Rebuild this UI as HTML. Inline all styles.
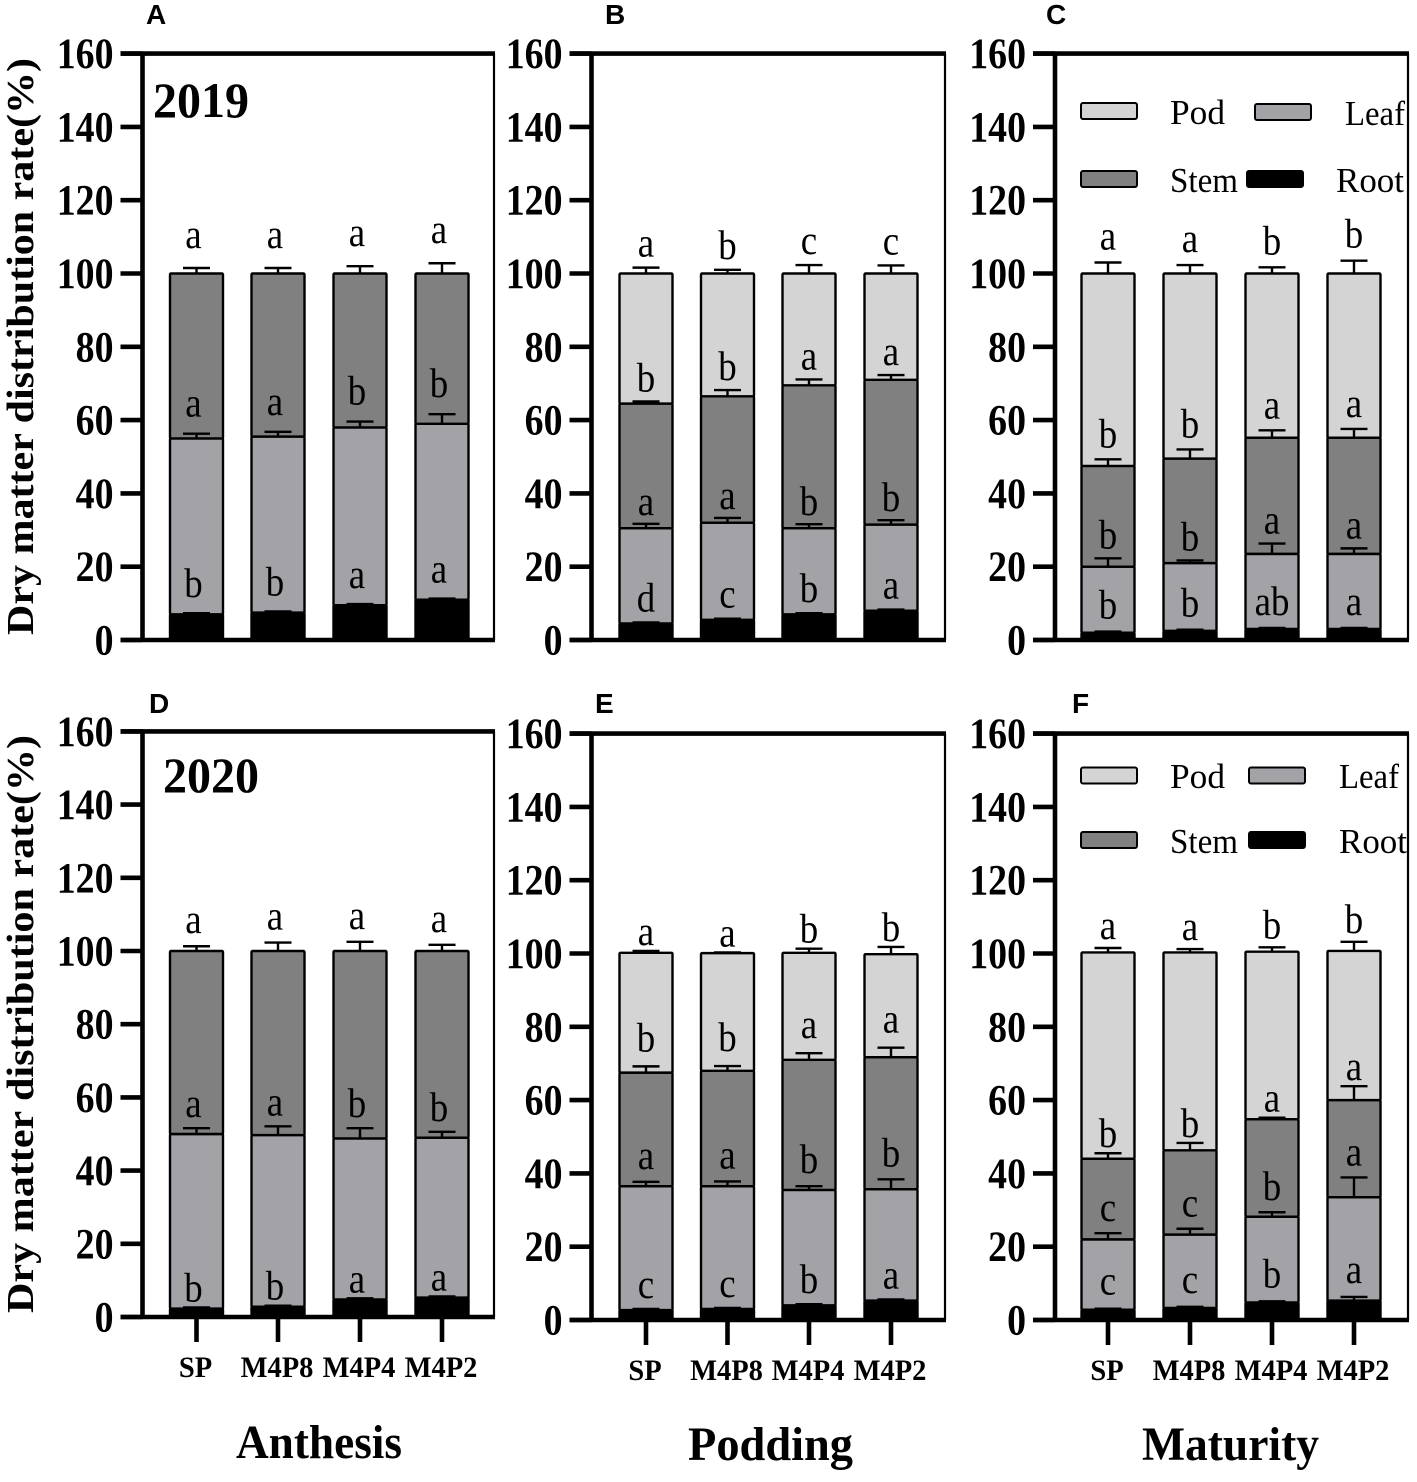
<!DOCTYPE html>
<html lang="en">
<head>
<meta charset="utf-8">
<title>Dry matter distribution rate</title>
<style>
html,body{margin:0;padding:0;background:#fff;}
svg{display:block;}
text{font-family:"Liberation Serif",serif;fill:#000;}
.sans{font-family:"Liberation Sans",sans-serif;}
</style>
</head>
<body>
<svg id="figure" xmlns="http://www.w3.org/2000/svg" width="1417" height="1482" viewBox="0 0 1417 1482"></svg>
<script>
const categories = ["SP", "M4P8", "M4P4", "M4P2"];
const tickLabels = [0, 20, 40, 60, 80, 100, 120, 140, 160];
const seriesNames = ["root", "leaf", "stem", "pod"];

const rootA = [7, 7.5, 9.5, 11];
const leafA = [48, 48, 48.5, 48];
const stemA = [45, 44.5, 42, 41];
const podA = [0, 0, 0, 0];
const rootErrA = [0.3, 0.3, 0.3, 0.3];
const leafErrA = [1.3, 1.3, 1.6, 2.6];
const stemErrA = [1.5, 1.5, 2, 2.8];
const podErrA = [0, 0, 0, 0];
const lettersA = [["b","b","a","a"], ["a","a","b","b"], ["a","a","a","a"], []];

const rootB = [4.5, 5.5, 7, 8];
const leafB = [26, 26.5, 23.5, 23.5];
const stemB = [34, 34.5, 39, 39.5];
const podB = [35.5, 33.5, 30.5, 29];
const rootErrB = [0.3, 0.3, 0.3, 0.3];
const leafErrB = [1.2, 1.3, 1.1, 1.2];
const stemErrB = [0.6, 1.7, 1.6, 1.3];
const podErrB = [1.6, 1, 2.3, 2.2];
const lettersB = [["d","c","b","a"], ["a","a","b","b"], ["b","b","a","a"], ["a","b","c","c"]];

const rootC = [2, 2.5, 3, 3];
const leafC = [18, 18.5, 20.5, 20.5];
const stemC = [27.5, 28.5, 31.7, 31.7];
const podC = [52.5, 50.5, 44.8, 44.8];
const rootErrC = [0.3, 0.3, 0.3, 0.3];
const leafErrC = [2.3, 0.7, 2.8, 1.5];
const stemErrC = [1.8, 2.5, 2, 2.4];
const podErrC = [3, 2.3, 1.7, 3.5];
const lettersC = [["b","b","ab","a"], ["b","b","a","a"], ["b","b","a","a"], ["a","a","b","b"]];

const rootD = [2.3, 2.8, 4.8, 5.3];
const leafD = [47.7, 46.9, 44, 43.7];
const stemD = [50, 50.3, 51.2, 51];
const podD = [0, 0, 0, 0];
const rootErrD = [0.3, 0.3, 0.3, 0.3];
const leafErrD = [1.6, 2.4, 2.8, 1.6];
const stemErrD = [1.3, 2.3, 2.5, 1.7];
const podErrD = [0, 0, 0, 0];
const lettersD = [["b","b","a","a"], ["a","a","b","b"], ["a","a","a","a"], []];

const rootE = [2.7, 3, 4, 5.3];
const leafE = [33.8, 33.5, 31.5, 30.4];
const stemE = [31, 31.5, 35.5, 36];
const podE = [32.7, 32.1, 29.2, 28.1];
const rootErrE = [0.3, 0.3, 0.3, 0.3];
const leafErrE = [1.2, 1.3, 1, 2.7];
const stemErrE = [1.7, 1.3, 1.8, 2.6];
const podErrE = [0.5, 0.2, 1.1, 2];
const lettersE = [["c","c","b","a"], ["a","a","b","b"], ["b","b","a","a"], ["a","a","b","b"]];

const rootF = [2.8, 3.3, 4.8, 5.3];
const leafF = [19.2, 20, 23.4, 28.2];
const stemF = [22, 23, 26.6, 26.5];
const podF = [56.3, 54, 45.7, 40.7];
const rootErrF = [0.3, 0.3, 0.3, 1];
const leafErrF = [1.7, 1.6, 1.2, 5.4];
const stemErrF = [1.5, 2, 0.4, 3.8];
const podErrF = [1.2, 0.9, 1.2, 2.5];
const lettersF = [["c","c","b","a"], ["c","c","b","a"], ["b","b","a","a"], ["a","a","b","b"]];

const fills = {root:"#000000", leaf:"#a3a2a6", stem:"#808080", pod:"#d4d4d4"};
const NS = "http://www.w3.org/2000/svg";
const svg = document.getElementById("figure");

function make(parent, tag, props) {
  const node = document.createElementNS(NS, tag);
  for (const key in props) node.setAttribute(key, props[key]);
  parent.appendChild(node);
  return node;
}
function label(parent, str, x, y, size, weight, anchor, sx) {
  const node = make(parent, "text", {
    transform: "translate(" + x + "," + y + ") scale(" + sx + ",1)",
    "font-size": size, "font-weight": weight, "text-anchor": anchor
  });
  node.textContent = str;
  return node;
}

const panels = [
  {id:"a", letter:"A", lx:146, ly:24, left:142.5, right:494, y0:640, k:3.665, bx:[196.5,278,360,442], root:rootA, leaf:leafA, stem:stemA, pod:podA, rootErr:rootErrA, leafErr:leafErrA, stemErr:stemErrA, podErr:podErrA, letters:lettersA, gaps:[16,17,20,0], dx:-3},
  {id:"b", letter:"B", lx:605, ly:24, left:591.5, right:945, y0:640, k:3.665, bx:[646,727.5,809,891], root:rootB, leaf:leafB, stem:stemB, pod:podB, rootErr:rootErrB, leafErr:leafErrB, stemErr:stemErrB, podErr:podErrB, letters:lettersB, gaps:[11,9,10,11], dx:0},
  {id:"c", letter:"C", lx:1046, ly:24, left:1055, right:1408, y0:640, k:3.665, bx:[1108,1190,1272,1354], root:rootC, leaf:leafC, stem:stemC, pod:podC, rootErr:rootErrC, leafErr:leafErrC, stemErr:stemErrC, podErr:podErrC, letters:lettersC, gaps:[13,10,12,13], dx:0},
  {id:"d", letter:"D", lx:149, ly:713, left:142.5, right:494, y0:1317, k:3.66, bx:[196.5,278,360,442], root:rootD, leaf:leafD, stem:stemD, pod:podD, rootErr:rootErrD, leafErr:leafErrD, stemErr:stemErrD, podErr:podErrD, letters:lettersD, gaps:[6,11,13,0], dx:-3},
  {id:"e", letter:"E", lx:595, ly:713, left:591.5, right:945, y0:1320, k:3.665, bx:[646,727.5,809,891], root:rootE, leaf:leafE, stem:stemE, pod:podE, rootErr:rootErrE, leafErr:leafErrE, stemErr:stemErrE, podErr:podErrE, letters:lettersE, gaps:[11,13,15,6], dx:0},
  {id:"f", letter:"F", lx:1072, ly:713, left:1055, right:1408, y0:1320, k:3.665, bx:[1108,1190,1272,1354], root:rootF, leaf:leafF, stem:stemF, pod:podF, rootErr:rootErrF, leafErr:leafErrF, stemErr:stemErrF, podErr:podErrF, letters:lettersF, gaps:[14,12,6,9], dx:0}
];

panels.forEach(function (p, pi) {
  const g = make(svg, "g", {});
  
  
  const yOf = function (v) { return p.y0 - v * p.k; };
  const tickStart = p.left - 22;
  const bottomRow = pi >= 3;

  // stacked bars
  categories.forEach(function (cat, ci) {
    let base = 0;
    const bars = [];
    seriesNames.forEach(function (name) {
      const v = p[name][ci];
      if (v > 0) {
        const bar = make(g, "rect", {
          x: p.bx[ci] - 26.5, y: yOf(base + v), width: 53, height: v * p.k,
          fill: fills[name], stroke: "#000", "stroke-width": 2.4, rx: 1
        });
        
        
        base += v;
      }
      bars.push(base);
    });
    seriesNames.forEach(function (name, si) {
      const err = p[name + "Err"][ci];
      if (p[name][ci] <= 0 || err <= 0) return;
      const t = bars[si];
      const eg = make(g, "path", {
        d: "M" + p.bx[ci] + " " + yOf(t) + "V" + yOf(t + err) + "M" + (p.bx[ci] - 13.5) + " " + yOf(t + err) + "H" + (p.bx[ci] + 13.5),
        fill: "none", stroke: "#000", "stroke-width": 2.4
      });
      
      
      const letter = p.letters[si][ci];
      if (letter) {
        const t2 = label(g, letter, p.bx[ci] + p.dx, yOf(t + err) - p.gaps[si], 41, "normal", "middle", 0.9);
        
        
      }
    });
  });

  // frame and axes
  const frame = make(g, "path", {
    d: "M" + p.right + " " + yOf(160) + "V" + p.y0, fill: "none", stroke: "#000", "stroke-width": 2.2
  });
  
  
  const topLine = make(g, "path", {
    d: "M" + tickStart + " " + yOf(160) + "H" + (p.right + 1), fill: "none", stroke: "#000", "stroke-width": 4.6
  });
  
  
  const yAxis = make(g, "path", {
    d: "M" + p.left + " " + yOf(160) + "V" + p.y0, fill: "none", stroke: "#000", "stroke-width": 4.6
  });
  
  
  const xAxis = make(g, "path", {
    d: "M" + tickStart + " " + p.y0 + "H" + (p.right + 1), fill: "none", stroke: "#000", "stroke-width": 4.6
  });
  
  

  tickLabels.forEach(function (tv) {
    const tick = make(g, "path", {
      d: "M" + tickStart + " " + yOf(tv) + "H" + p.left, fill: "none", stroke: "#000", "stroke-width": 4.6
    });
    
    
    const tl = label(g, String(tv), tickStart - 7, yOf(tv) + 14.5, 43, "bold", "end", 0.88);
    
    
  });

  if (bottomRow) {
    categories.forEach(function (cat, ci) {
      const tick = make(g, "path", {
        d: "M" + p.bx[ci] + " " + p.y0 + "V" + (p.y0 + 25), fill: "none", stroke: "#000", "stroke-width": 4.6
      });
      
      
      const tl = label(g, cat, p.bx[ci] - 1, p.y0 + 60, 30, "bold", "middle", 0.95);
      
      
    });
  }

  const pl = label(g, p.letter, p.lx, p.ly, 28, "bold", "start", 1);
  pl.setAttribute("class", "sans");
  
  
});

// y-axis titles
[[635, 577], [1313, 578]].forEach(function (pair, i) {
  const t = make(svg, "text", {
    transform: "translate(33," + pair[0] + ") rotate(-90)",
    "font-size": 38, "font-weight": "bold",
    textLength: pair[1], lengthAdjust: "spacingAndGlyphs"
  });
  t.textContent = "Dry matter distribution rate(%)";
  
  
});

// year labels
const y2019 = label(svg, "2019", 153, 117, 50, "bold", "start", 0.96);


const y2020 = label(svg, "2020", 163, 792, 50, "bold", "start", 0.96);



// stage titles
[["Anthesis", 236, 1458, 166], ["Podding", 688, 1460, 165], ["Maturity", 1142, 1460, 177]].forEach(function (s) {
  const t = make(svg, "text", {
    x: s[1], y: s[2], "font-size": 48, "font-weight": "bold",
    textLength: s[3], lengthAdjust: "spacingAndGlyphs"
  });
  t.textContent = s[0];
  
  
});

// legends
const legendEntries = [
  ["c", "Pod", "pod", 1081, 103, 1170, 124, 55],
  ["c", "Leaf", "leaf", 1255, 104, 1345, 125, 60],
  ["c", "Stem", "stem", 1081, 171, 1170, 192, 68],
  ["c", "Root", "root", 1247, 171, 1336, 192, 68],
  ["f", "Pod", "pod", 1081, 767.5, 1170, 788, 55],
  ["f", "Leaf", "leaf", 1249, 767.5, 1339, 788, 60],
  ["f", "Stem", "stem", 1081, 832, 1170, 853, 68],
  ["f", "Root", "root", 1249, 832, 1339, 853, 68]
];
legendEntries.forEach(function (e) {
  const g = make(svg, "g", {});
  
  
  const sw = make(g, "rect", {
    x: e[3], y: e[4], width: 56, height: 16, rx: 2,
    fill: fills[e[2]], stroke: "#000", "stroke-width": 2
  });
  
  
  const t = make(g, "text", {
    x: e[5], y: e[6], "font-size": 35,
    textLength: e[7], lengthAdjust: "spacingAndGlyphs"
  });
  t.textContent = e[1];
  
  
});
</script>
</body>
</html>
